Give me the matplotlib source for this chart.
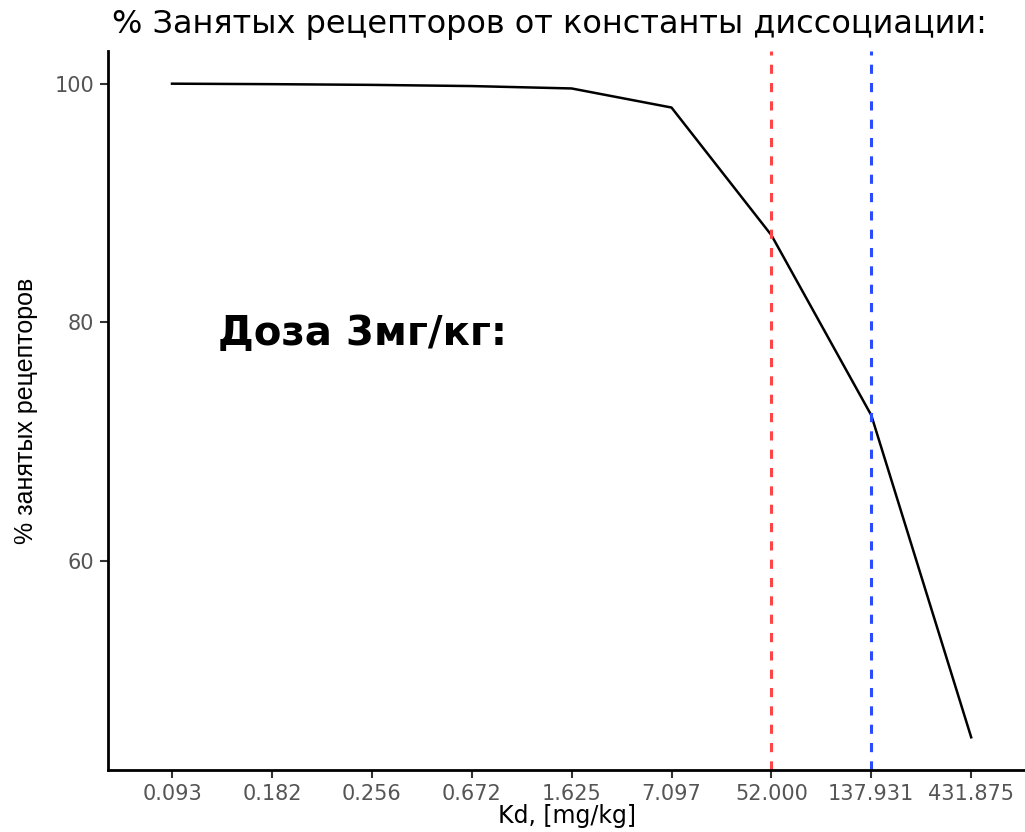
import matplotlib
matplotlib.use('Agg')
import matplotlib.pyplot as plt

# Kd values (categorical axis) and % occupied receptors
kd_labels = ['0.093', '0.182', '0.256', '0.672', '1.625', '7.097',
             '52.000', '137.931', '431.875']
occupancy = [100.0, 99.96, 99.9, 99.8, 99.6, 98.0, 87.3, 72.2, 45.2]

# reference Kd marks (red and blue dashed lines)
kd_marks = ['52.000', '137.931']
mark_colors = ['#FF4545', '#2A4BFF']

plt.rcParams['font.family'] = ['DejaVu Sans']

fig = plt.figure(figsize=(10.25, 8.32), dpi=100)
ax = fig.add_axes([108 / 1025, 62 / 832, (1025 - 108) / 1025, (770 - 51) / 832])

xs = list(range(1, len(kd_labels) + 1))
ax.plot(xs, occupancy, color='black', linewidth=1.8)

for lab, col in zip(kd_marks, mark_colors):
    ax.axvline(kd_labels.index(lab) + 1, color=col, linestyle=(0, (3, 3)),
               linewidth=2.2)

ax.set_xlim(1 - 64 / 99.9, 1 + (1025 - 172) / 99.9)
ax.set_ylim(42.46, 102.74)
ax.set_xticks(xs)
ax.set_xticklabels(kd_labels)
ax.set_yticks([60, 80, 100])

for s in ['top', 'right']:
    ax.spines[s].set_visible(False)
for s in ['left', 'bottom']:
    ax.spines[s].set_linewidth(2)
    ax.spines[s].set_color('black')
ax.tick_params(axis='both', length=6, width=1.5, color='#333333',
               labelsize=15, labelcolor='#555555', pad=4)

ax.set_xlabel('Kd, [mg/kg]', fontsize=17, labelpad=0)
ax.set_ylabel('% занятых рецепторов', fontsize=18, labelpad=12,
              family='Liberation Sans')

fig.text(112 / 1025, 1 - 25 / 832, '% Занятых рецепторов от константы диссоциации:',
         fontsize=23, ha='left', va='center')

fig.text(218 / 1025, 1 - 334 / 832, 'Доза 3мг/кг:', fontsize=29,
         fontweight='bold', ha='left', va='center')

fig.savefig('out.png', dpi=100)
